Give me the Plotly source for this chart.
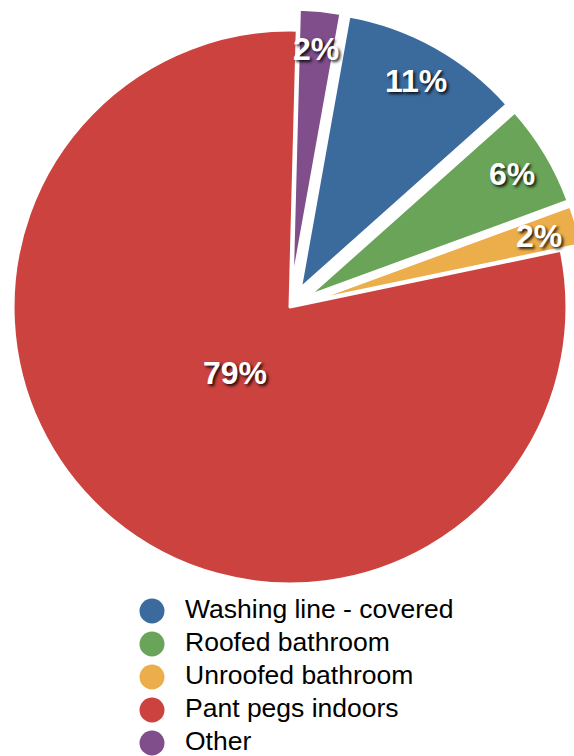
import math
import plotly.graph_objects as go

labels = ["Washing line - covered", "Roofed bathroom", "Unroofed bathroom", "Pant pegs indoors", "Other"]
values = [10.6, 6.0, 2.3, 78.7, 2.4]      # percent shares
colors = ["#3B6B9D", "#6AA458", "#ECAE4B", "#CB423E", "#7F4E8B"]
pulled = [True, True, True, False, True]

W, H = 596, 756        # figure size; page shifted left by SHIFT px
SHIFT = 8
FONT = "Liberation Sans, Helvetica, Arial, sans-serif"
PULL = 0.076
START = 1.5            # angle (deg, clockwise from 12 o'clock) where "Other" begins

total = float(sum(values))
rotation = START + 360.0 * values[-1] / total
pulls = [PULL if p else 0 for p in pulled]

fig = go.Figure()
fig.add_trace(go.Pie(
    labels=labels, values=values, sort=False, direction="clockwise",
    rotation=rotation, pull=pulls,
    marker=dict(colors=colors, line=dict(color="white", width=3)),
    textposition="none",
    showlegend=False, hoverinfo="label+percent",
    domain=dict(x=[0, 1], y=[0.1997, 0.9881]),
))

# hidden unit axes aligned with the pie (centre 0,0, radius 1) for the labels
fig.add_trace(go.Scatter(x=[None], y=[None], xaxis="x2", yaxis="y2",
                         showlegend=False, hoverinfo="skip"))
mids, acc = [], rotation
for v in values:
    mids.append(acc + 180.0 * v / total)
    acc += 360.0 * v / total
pct_text = ["%d%%" % round(100 * v / total) for v in values]
label_r = [0.935 if p else 0.31 for p in pulled]
for t, ang, rr in zip(pct_text, mids, label_r):
    a = math.radians(ang)
    fig.add_annotation(
        x=rr * math.sin(a), y=rr * math.cos(a), xref="x2", yref="y2",
        text=t, showarrow=False, xanchor="center", yanchor="middle",
        font=dict(family=FONT, size=32, color="white", weight="bold",
                  shadow="2px 2px 3px rgba(0,0,0,0.85)"),
    )

# legend drawn as a category column: circle markers + labels
fig.add_trace(go.Scatter(
    x=[0] * len(labels), y=labels, mode="markers",
    marker=dict(color=colors, size=25, symbol="circle"),
    showlegend=False, hoverinfo="skip",
))
fig.add_trace(go.Scatter(
    x=[1] * len(labels), y=labels, mode="text", text=labels,
    textposition="middle right",
    textfont=dict(family=FONT, size=26.5, color="black"),
    showlegend=False, hoverinfo="skip",
))

px_per_x = 33.0
x0_px = 152.0 + SHIFT
row_px = 33.0
row0_px = 611.0
n = len(labels)
fig.update_layout(
    width=W, height=H,
    margin=dict(l=0, r=0, t=0, b=0),
    paper_bgcolor="white", plot_bgcolor="rgba(0,0,0,0)",
    xaxis=dict(visible=False, range=[-x0_px / px_per_x, (W - x0_px) / px_per_x], domain=[0, 1]),
    yaxis=dict(visible=False, type="category", domain=[0, 1],
               range=[(n - 1) + (H - (row0_px + (n - 1) * row_px)) / row_px,
                      -row0_px / row_px]),
    xaxis2=dict(visible=False, range=[-1, 1], domain=[21 / W, 575 / W], anchor="y2"),
    yaxis2=dict(visible=False, range=[-1, 1], domain=[1 - 584 / H, 1 - 30 / H], anchor="x2"),
    showlegend=False,
)
fig.write_html(
    "out.html",
    config={"displayModeBar": False},
    post_script=("document.body.style.margin='0';"
                 "document.body.style.marginLeft='-%dpx';"
                 "document.documentElement.style.overflow='hidden';"
                 "document.body.style.overflow='hidden';") % SHIFT,
)
